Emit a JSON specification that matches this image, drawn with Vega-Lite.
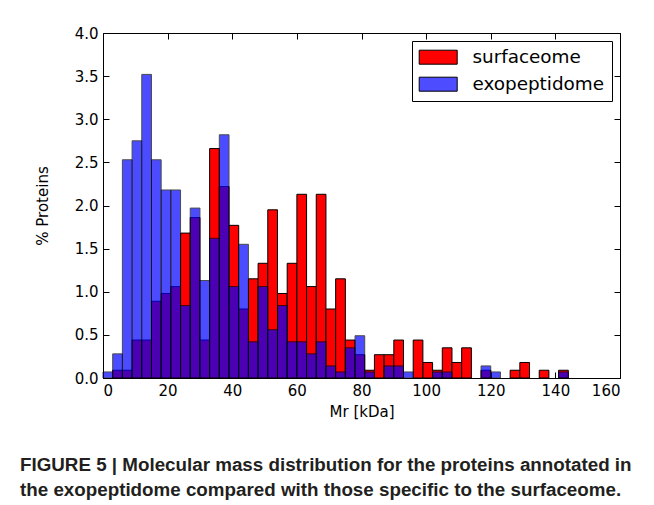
{
  "$schema": "https://vega.github.io/schema/vega-lite/v6.json",
  "width": 517,
  "height": 345,
  "autosize": {"type": "none"},
  "padding": {"left": 103, "top": 33, "right": 34, "bottom": 127},
  "background": "white",
  "config": {
    "view": {"stroke": "#000", "strokeWidth": 1},
    "font": "DejaVu Sans",
    "axis": {
      "grid": false, "domain": false,
      "labelFont": "DejaVu Sans", "labelFontSize": 15, "labelColor": "#000",
      "titleFont": "DejaVu Sans", "titleFontSize": 15, "titleFontWeight": "normal", "titleColor": "#000",
      "tickColor": "#000", "tickSize": -6, "labelPadding": 11
    }
  },
  "title": {
    "text": ["FIGURE 5 | Molecular mass distribution for the proteins annotated in", "the exopeptidome compared with those specific to the surfaceome."],
    "orient": "bottom", "anchor": "start", "frame": "group", "dx": -83,
    "font": "Liberation Sans", "fontSize": 18.8, "fontWeight": "bold", "color": "#231f20",
    "lineHeight": 25, "offset": 37
  },
  "data": {"values": [
    {"start": 0, "end": 3, "series": "exopeptidome", "pct": 0.07},
    {"start": 3, "end": 6, "series": "exopeptidome", "pct": 0.28},
    {"start": 6, "end": 9, "series": "exopeptidome", "pct": 2.53},
    {"start": 9, "end": 12, "series": "exopeptidome", "pct": 2.75},
    {"start": 12, "end": 15, "series": "exopeptidome", "pct": 3.52},
    {"start": 15, "end": 18, "series": "exopeptidome", "pct": 2.53},
    {"start": 18, "end": 21, "series": "exopeptidome", "pct": 2.18},
    {"start": 21, "end": 24, "series": "exopeptidome", "pct": 2.18},
    {"start": 24, "end": 27, "series": "exopeptidome", "pct": 0.84},
    {"start": 27, "end": 30, "series": "exopeptidome", "pct": 1.97},
    {"start": 30, "end": 33, "series": "exopeptidome", "pct": 1.13},
    {"start": 33, "end": 36, "series": "exopeptidome", "pct": 1.62},
    {"start": 36, "end": 39, "series": "exopeptidome", "pct": 2.82},
    {"start": 39, "end": 42, "series": "exopeptidome", "pct": 1.06},
    {"start": 42, "end": 45, "series": "exopeptidome", "pct": 1.55},
    {"start": 45, "end": 48, "series": "exopeptidome", "pct": 0.42},
    {"start": 48, "end": 51, "series": "exopeptidome", "pct": 1.06},
    {"start": 51, "end": 54, "series": "exopeptidome", "pct": 0.56},
    {"start": 54, "end": 57, "series": "exopeptidome", "pct": 0.84},
    {"start": 57, "end": 60, "series": "exopeptidome", "pct": 0.42},
    {"start": 60, "end": 63, "series": "exopeptidome", "pct": 0.42},
    {"start": 63, "end": 66, "series": "exopeptidome", "pct": 0.28},
    {"start": 66, "end": 69, "series": "exopeptidome", "pct": 0.42},
    {"start": 69, "end": 72, "series": "exopeptidome", "pct": 0.14},
    {"start": 72, "end": 75, "series": "exopeptidome", "pct": 0.07},
    {"start": 75, "end": 78, "series": "exopeptidome", "pct": 0.35},
    {"start": 78, "end": 81, "series": "exopeptidome", "pct": 0.49},
    {"start": 81, "end": 84, "series": "exopeptidome", "pct": 0.07},
    {"start": 87, "end": 90, "series": "exopeptidome", "pct": 0.14},
    {"start": 90, "end": 93, "series": "exopeptidome", "pct": 0.14},
    {"start": 93, "end": 96, "series": "exopeptidome", "pct": 0.07},
    {"start": 102, "end": 105, "series": "exopeptidome", "pct": 0.07},
    {"start": 105, "end": 108, "series": "exopeptidome", "pct": 0.07},
    {"start": 117, "end": 120, "series": "exopeptidome", "pct": 0.14},
    {"start": 120, "end": 123, "series": "exopeptidome", "pct": 0.07},
    {"start": 141, "end": 144, "series": "exopeptidome", "pct": 0.07},
    {"start": 3, "end": 6, "series": "surfaceome", "pct": 0.09},
    {"start": 6, "end": 9, "series": "surfaceome", "pct": 0.09},
    {"start": 9, "end": 12, "series": "surfaceome", "pct": 0.44},
    {"start": 12, "end": 15, "series": "surfaceome", "pct": 0.44},
    {"start": 15, "end": 18, "series": "surfaceome", "pct": 0.89},
    {"start": 18, "end": 21, "series": "surfaceome", "pct": 0.98},
    {"start": 21, "end": 24, "series": "surfaceome", "pct": 1.06},
    {"start": 24, "end": 27, "series": "surfaceome", "pct": 1.68},
    {"start": 27, "end": 30, "series": "surfaceome", "pct": 1.86},
    {"start": 30, "end": 33, "series": "surfaceome", "pct": 0.44},
    {"start": 33, "end": 36, "series": "surfaceome", "pct": 2.66},
    {"start": 36, "end": 39, "series": "surfaceome", "pct": 2.22},
    {"start": 39, "end": 42, "series": "surfaceome", "pct": 1.77},
    {"start": 42, "end": 45, "series": "surfaceome", "pct": 0.8},
    {"start": 45, "end": 48, "series": "surfaceome", "pct": 1.15},
    {"start": 48, "end": 51, "series": "surfaceome", "pct": 1.33},
    {"start": 51, "end": 54, "series": "surfaceome", "pct": 1.95},
    {"start": 54, "end": 57, "series": "surfaceome", "pct": 0.98},
    {"start": 57, "end": 60, "series": "surfaceome", "pct": 1.33},
    {"start": 60, "end": 63, "series": "surfaceome", "pct": 2.13},
    {"start": 63, "end": 66, "series": "surfaceome", "pct": 1.06},
    {"start": 66, "end": 69, "series": "surfaceome", "pct": 2.13},
    {"start": 69, "end": 72, "series": "surfaceome", "pct": 0.8},
    {"start": 72, "end": 75, "series": "surfaceome", "pct": 1.15},
    {"start": 75, "end": 78, "series": "surfaceome", "pct": 0.44},
    {"start": 78, "end": 81, "series": "surfaceome", "pct": 0.27},
    {"start": 81, "end": 84, "series": "surfaceome", "pct": 0.09},
    {"start": 84, "end": 87, "series": "surfaceome", "pct": 0.27},
    {"start": 87, "end": 90, "series": "surfaceome", "pct": 0.27},
    {"start": 90, "end": 93, "series": "surfaceome", "pct": 0.44},
    {"start": 96, "end": 99, "series": "surfaceome", "pct": 0.44},
    {"start": 99, "end": 102, "series": "surfaceome", "pct": 0.18},
    {"start": 102, "end": 105, "series": "surfaceome", "pct": 0.09},
    {"start": 105, "end": 108, "series": "surfaceome", "pct": 0.35},
    {"start": 108, "end": 111, "series": "surfaceome", "pct": 0.18},
    {"start": 111, "end": 114, "series": "surfaceome", "pct": 0.35},
    {"start": 117, "end": 120, "series": "surfaceome", "pct": 0.09},
    {"start": 126, "end": 129, "series": "surfaceome", "pct": 0.09},
    {"start": 129, "end": 132, "series": "surfaceome", "pct": 0.18},
    {"start": 135, "end": 138, "series": "surfaceome", "pct": 0.09},
    {"start": 141, "end": 144, "series": "surfaceome", "pct": 0.09}
  ]},
  "layer": [
    {
      "transform": [{"filter": "datum.series === 'surfaceome'"}],
      "mark": {"type": "bar", "stroke": "#000", "strokeWidth": 1},
      "encoding": {
        "x": {"field": "start", "type": "quantitative",
              "scale": {"domain": [0, 160], "nice": false, "zero": false},
              "axis": {"orient": "bottom", "values": [0, 20, 40, 60, 80, 100, 120, 140, 160], "title": "Mr [kDa]", "titlePadding": 6}},
        "x2": {"field": "end"},
        "y": {"field": "pct", "type": "quantitative",
              "scale": {"domain": [0, 4], "nice": false},
              "axis": {"orient": "left", "values": [0, 0.5, 1, 1.5, 2, 2.5, 3, 3.5, 4], "format": ".1f", "title": "% Proteins", "titlePadding": 24}},
        "y2": {"datum": 0},
        "color": {"field": "series", "type": "nominal",
                  "scale": {"domain": ["surfaceome", "exopeptidome"], "range": ["#ff0000", "#4d4dff"]},
                  "legend": {"orient": "top-right", "offset": 8, "title": null,
                             "strokeColor": "#000", "fillColor": "#fff", "padding": 7, "cornerRadius": 0,
                             "symbolType": "M-2.375,-0.875H2.375V0.875H-2.375Z", "symbolSize": 256,
                             "symbolOffset": 10,
                             "symbolStrokeColor": "#000", "symbolStrokeWidth": 1,
                             "labelFont": "DejaVu Sans", "labelFontSize": 18.4, "labelColor": "#000",
                             "rowPadding": 8, "labelOffset": 25}}
      }
    },
    {
      "transform": [{"filter": "datum.series === 'exopeptidome'"}],
      "mark": {"type": "bar", "fill": "#0000ff", "opacity": 0.7, "stroke": "#000", "strokeWidth": 1},
      "encoding": {
        "x": {"field": "start", "type": "quantitative",
              "axis": {"orient": "top", "values": [0, 20, 40, 60, 80, 100, 120, 140, 160], "labels": false, "title": null}},
        "x2": {"field": "end"},
        "y": {"field": "pct", "type": "quantitative",
              "axis": {"orient": "right", "values": [0, 0.5, 1, 1.5, 2, 2.5, 3, 3.5, 4], "labels": false, "title": null}},
        "y2": {"datum": 0}
      }
    }
  ],
  "resolve": {"axis": {"x": "independent", "y": "independent"}}
}
